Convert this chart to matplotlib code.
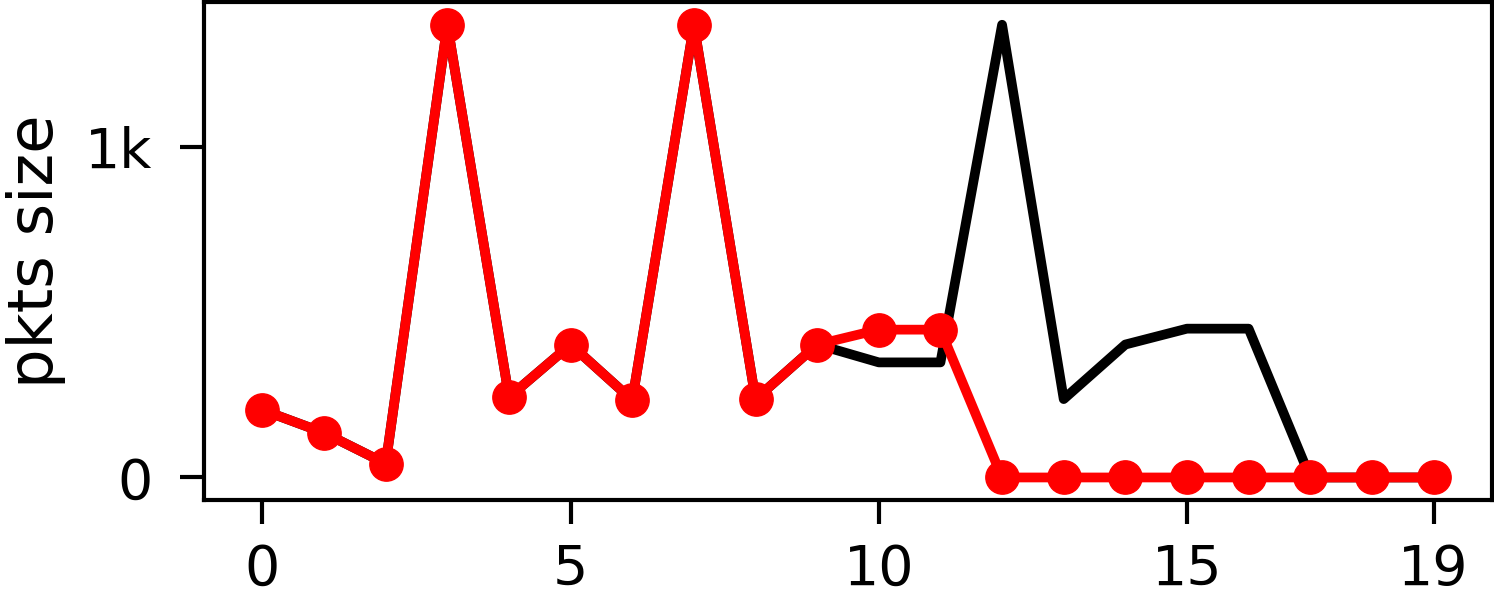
import numpy as np
import matplotlib
matplotlib.use("Agg")
import matplotlib.pyplot as plt

x = list(range(20))
black_vals = [204, 135, 42, 1369, 243, 402, 234, 1369, 237, 402,
              348, 348, 1369, 237, 402, 450, 450, 0, 0, 0]
red_vals = [204, 135, 42, 1369, 243, 402, 234, 1369, 237, 402,
            447, 447, 0, 0, 0, 0, 0, 0, 0, 0]
xticks = [0, 5, 10, 15, 19]
yticks = [0, 1000]
ytick_labels = ["0", "1k"]

fig = plt.figure(figsize=(14.94, 6.04), dpi=100)
ax = fig.add_axes([0.1365, 0.172, 0.8622, 0.8245])

ax.plot(x, black_vals, color="black", lw=7, solid_joinstyle="round", zorder=2)
ax.plot(x, red_vals, color="#ff0000", lw=7, marker="o", markersize=24,
        solid_joinstyle="round", zorder=3)

ax.set_xticks(xticks)
ax.set_yticks(yticks)
ax.set_yticklabels(ytick_labels)
ax.tick_params(axis="x", labelsize=40, length=17, width=3, pad=14)
ax.tick_params(axis="y", labelsize=40, length=17, width=3, pad=20)
ax.set_ylabel("pkts size", fontsize=45, labelpad=14)
for sp in ax.spines.values():
    sp.set_linewidth(3)

fig.savefig("out.png", dpi=100, facecolor="white")
